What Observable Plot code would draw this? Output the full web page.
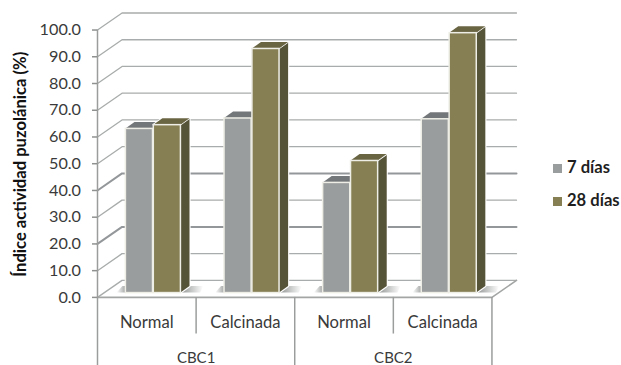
<!DOCTYPE html>
<html lang="es">
<head>
<meta charset="utf-8">
<script src="https://cdn.jsdelivr.net/npm/d3@7"></script>
<script src="https://cdn.jsdelivr.net/npm/@observablehq/plot@0.6"></script>
<style>
  html, body { margin: 0; padding: 0; background: #fff; }
  #chart { position: relative; width: 621px; height: 365px; overflow: hidden; }
  #chart svg { position: absolute; left: 0; top: 0; font-family: Lato, sans-serif; }
  .legend { position: absolute; left: 553px; font: bold 16.6px Lato, sans-serif; color: #1f1f1f; line-height: 18px; white-space: nowrap; }
  .legend i { display: inline-block; width: 9px; height: 9px; margin-right: 5px; }
</style>
</head>
<body>
<div id="chart"></div>
<script>
// Values per sample group, in percent
const groups = ["CBC1", "CBC2"];
const treatments = ["Normal", "Calcinada", "Normal", "Calcinada"];
const seriesNames = ["7 días", "28 días"];
const dias7 = [61.4, 65.3, 41.2, 65.0];
const dias28 = [62.8, 91.3, 49.4, 97.2];
const yTicks = [0, 10, 20, 30, 40, 50, 60, 70, 80, 90, 100];
const heavyGrid = [20, 40];

// Oblique projection of the chart box, expressed in scale units
const wallDx = 0.249, wallDy = 6.37;   // floor depth
const barDx = 0.092, barDy = 2.43;     // bar depth
const baseDx = 0.063, baseDy = 1.62;   // gap between floor edge and bar front
const barW = 0.275;
const yBottom = -25.47;
const xEnd = treatments.length;

const palette = [
  {front: "#9a9d9e", top: "#74777a", side: "#6d7073"},
  {front: "#867f53", top: "#696543", side: "#555338"}
];
const edge = "#eeeee6";

const barsOf = (values, s) => values.map((v, i) => {
  const center = i + 0.5 + baseDx;
  const left = s === 0 ? center - barW : center + 0.008;
  return {id: `${s}-${i}`, left, right: left + barW, value: v + baseDy};
});

// Side, top and front faces of one series
function barFaces(values, s) {
  const bars = barsOf(values, s);
  const side = bars.flatMap(b => [
    {id: b.id, x: b.right, y1: baseDy, y2: b.value},
    {id: b.id, x: b.right + barDx, y1: baseDy + barDy, y2: b.value + barDy}
  ]);
  const top = bars.flatMap(b => [
    {id: b.id, y: b.value, x1: b.left, x2: b.right},
    {id: b.id, y: b.value + barDy, x1: b.left + barDx, x2: b.right + barDx}
  ]);
  return [
    Plot.areaY(side, {x: "x", y1: "y1", y2: "y2", z: "id", fill: palette[s].side, stroke: "#fff", strokeWidth: 2.2}),
    Plot.areaY(side, {x: "x", y1: "y1", y2: "y2", z: "id", fill: palette[s].side}),
    Plot.areaX(top, {y: "y", x1: "x1", x2: "x2", z: "id", fill: palette[s].top, stroke: "#fff", strokeWidth: 1.6}),
    Plot.areaX(top, {y: "y", x1: "x1", x2: "x2", z: "id", fill: palette[s].top}),
    Plot.rectY(bars, {x1: "left", x2: "right", y1: baseDy, y2: "value", fill: palette[s].front, stroke: edge, strokeWidth: 1.5})
  ];
}

// Soft shadows cast on the floor beside each pair of bars
const shadowRight = treatments.flatMap((_, i) => {
  const r = i + 0.5 + baseDx + barW + 0.008;
  return [
    {id: i, y: baseDy, x1: r, x2: r + 0.2},
    {id: i, y: baseDy + barDy, x1: r + barDx, x2: r + barDx + 0.14}
  ];
});
const shadowLeft = treatments.flatMap((_, i) => {
  const l = i + 0.5 + baseDx - barW;
  return [
    {id: i, y: baseDy, x1: l - 0.09, x2: l},
    {id: i, y: baseDy + barDy, x1: l - 0.03, x2: l}
  ];
});

const gridPaths = yTicks.flatMap(t => [
  {t, x: 0, y: t},
  {t, x: wallDx, y: t + wallDy},
  {t, x: xEnd + wallDx, y: t + wallDy}
]);
const floorOutline = [
  {x: 0, y: 0}, {x: xEnd, y: 0}, {x: xEnd + wallDx, y: wallDy}
];
const gridColor = "#a9acac";

const plot = Plot.plot({
  width: 621,
  height: 365,
  marginLeft: 97,
  marginRight: 105,
  marginTop: 12.5,
  marginBottom: 0,
  x: {domain: [0, xEnd + wallDx], axis: null},
  y: {domain: [yBottom, 100 + wallDy], axis: null},
  marks: [
    () => {
      const svg = d3.create("svg:g");
      const defs = svg.append("defs");
      [["fadeR", "#8f9191", "#ffffff"], ["fadeL", "#ffffff", "#a5a7a7"]].forEach(([id, a, b]) => {
        const g = defs.append("linearGradient").attr("id", id);
        g.append("stop").attr("offset", "0%").attr("stop-color", a);
        g.append("stop").attr("offset", "100%").attr("stop-color", b);
      });
      return svg.node();
    },
    // back wall gridlines with their diagonals on the side wall
    Plot.line(gridPaths.filter(d => !heavyGrid.includes(d.t)), {x: "x", y: "y", z: "t", stroke: gridColor, strokeWidth: 1.3}),
    Plot.line(gridPaths.filter(d => heavyGrid.includes(d.t)), {x: "x", y: "y", z: "t", stroke: "#94979a", strokeWidth: 2}),
    // floor edges
    Plot.line(floorOutline, {x: "x", y: "y", stroke: "#a3a5a5", strokeWidth: 1.6}),
    // shadows, then bars
    Plot.areaX(shadowRight, {y: "y", x1: "x1", x2: "x2", z: "id", fill: "url(#fadeR)"}),
    Plot.areaX(shadowLeft, {y: "y", x1: "x1", x2: "x2", z: "id", fill: "url(#fadeL)"}),
    ...barFaces(dias7, 0),
    ...barFaces(dias28, 1),
    // value axis
    Plot.ruleX([0], {y1: 0, y2: 100, stroke: "#9b9d9d", strokeWidth: 1.5}),
    Plot.axisY({
      ticks: yTicks,
      tickFormat: d => d.toFixed(1),
      tickSize: 5,
      tickPadding: 11.5,
      stroke: "#8f9191",
      strokeWidth: 1.5,
      fill: "#3a3a3a",
      fontSize: 16.2,
      label: null
    }),
    Plot.text(["Índice actividad puzolánica (%)"], {
      frameAnchor: "left",
      textAnchor: "middle",
      rotate: -90,
      dx: -77,
      dy: -25,
      fontSize: 16.6,
      fontWeight: 700,
      fill: "#111"
    }),
    // two-level category axis
    Plot.ruleX([0, 2, 4], {y1: yBottom, y2: 0, stroke: "#9b9d9d", strokeWidth: 1.5}),
    Plot.ruleX([1, 3], {y1: -13.7, y2: 0, stroke: "#9b9d9d", strokeWidth: 1.5}),
    Plot.text(treatments, {x: (d, i) => i + 0.5, y: -9.6, text: d => d, fontSize: 16.6, fill: "#3a3a3a"}),
    Plot.text(groups, {x: (d, i) => 2 * i + 1, y: -22.6, text: d => d, fontSize: 15, fill: "#3a3a3a"})
  ]
});

const chart = document.getElementById("chart");
chart.append(plot);

// Series legend to the right of the plot
seriesNames.forEach((name, s) => {
  const row = document.createElement("div");
  row.className = "legend";
  row.style.top = `${158 + 33 * s}px`;
  const swatch = document.createElement("i");
  swatch.style.background = palette[s].front;
  row.append(swatch, name);
  chart.append(row);
});
</script>
</body>
</html>
